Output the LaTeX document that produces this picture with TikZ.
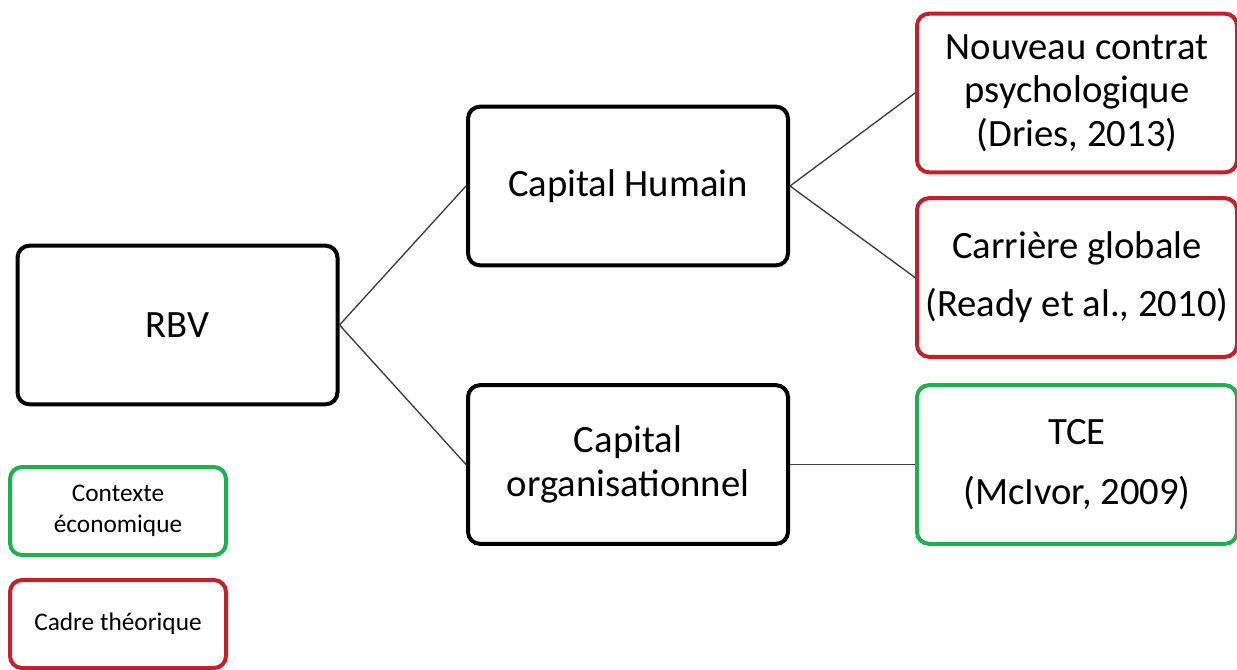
\documentclass[tikz,border=0pt]{standalone}
\usepackage{fontspec}
\setmainfont{Carlito}
\definecolor{boxred}{RGB}{194,32,42}
\definecolor{boxgreen}{RGB}{30,175,80}
\definecolor{linegray}{RGB}{60,60,60}
\tikzset{
  bigbox/.style={draw, rounded corners=9pt, line width=3pt, minimum width=240pt, minimum height=119pt, align=center, inner sep=0pt, font=\fontsize{29}{32.5}\selectfont},
  smallbox/.style={draw, rounded corners=9pt, line width=3pt, minimum width=162pt, minimum height=66pt, align=center, inner sep=0pt, font=\fontsize{19}{23.5}\selectfont},
  link/.style={draw=linegray, line width=1pt}
}
\begin{document}
\begin{tikzpicture}[x=0.75pt,y=-0.75pt]
\useasboundingbox (0,0) rectangle (1237,669);
\node[bigbox] (rbv) at (177.5,325) {RBV};
\node[bigbox] (ch) at (628,186) {Capital Humain};
\node[bigbox] (co) at (628,464.5) {Capital\\organisationnel};
\node[bigbox, draw=boxred] (nc) at (1077,93) {Nouveau contrat\\psychologique\\(Dries, 2013)};
\node[bigbox, draw=boxred] (cg) at (1077,277.5) {Carrière globale\\[11pt](Ready et al., 2010)};
\node[bigbox, draw=boxgreen] (tce) at (1077,464.5) {TCE\\[12pt](McIvor, 2009)};
\node[smallbox, draw=boxgreen] (ce) at (118,511) {Contexte\\économique};
\node[smallbox, draw=boxred] (ct) at (118,624) {Cadre théorique};
\draw[link] (rbv.east) -- (ch.west);
\draw[link] (rbv.east) -- (co.west);
\draw[link] (ch.east) -- (nc.west);
\draw[link] (ch.east) -- (cg.west);
\draw[link] (co.east) -- (tce.west);
\end{tikzpicture}
\end{document}
